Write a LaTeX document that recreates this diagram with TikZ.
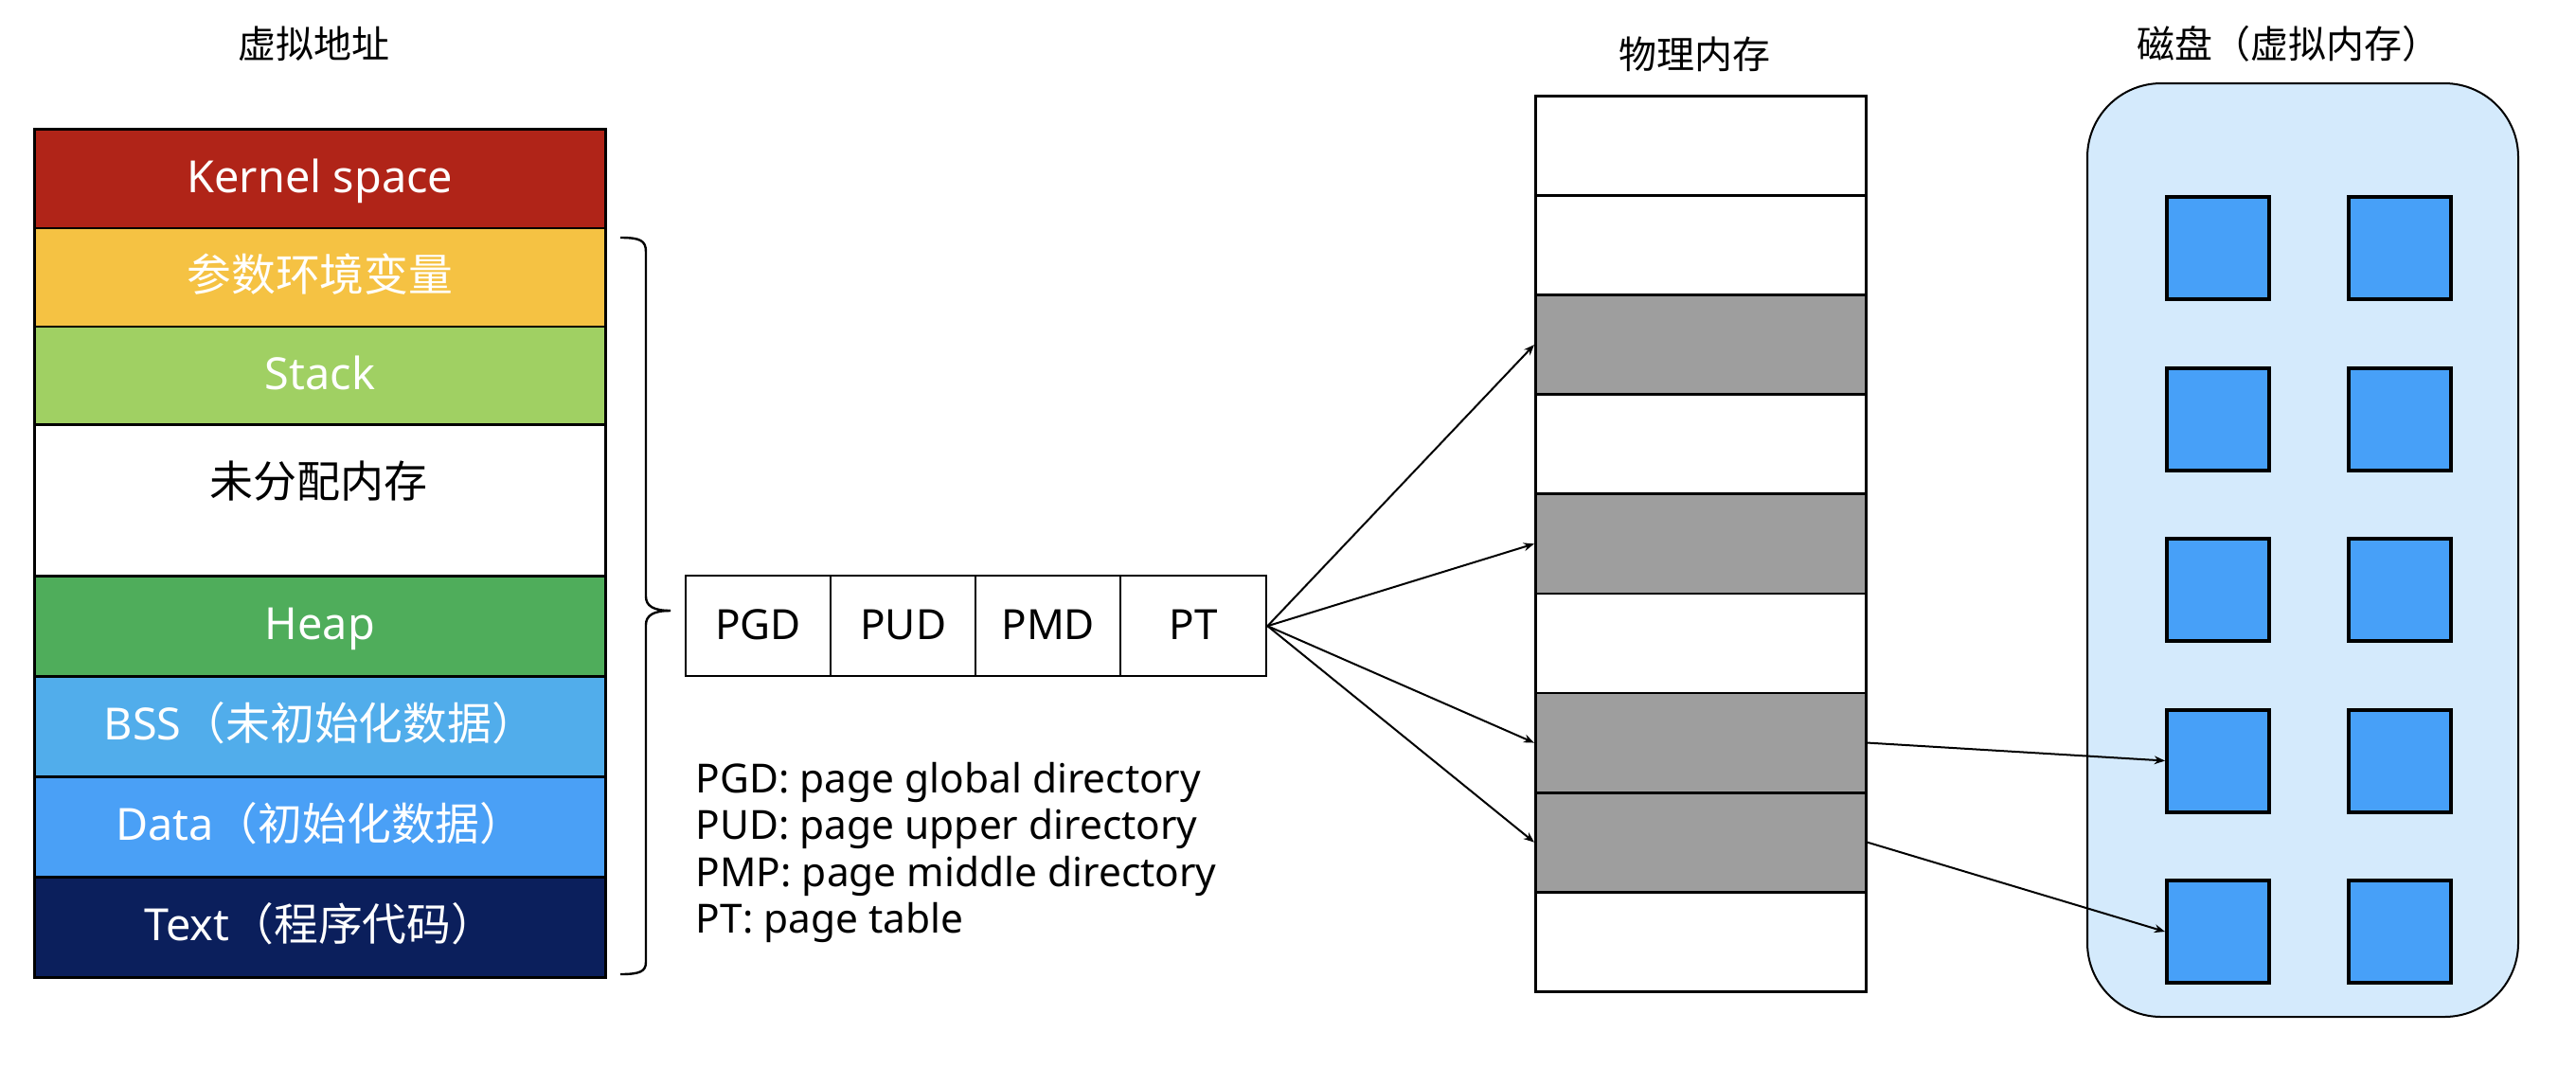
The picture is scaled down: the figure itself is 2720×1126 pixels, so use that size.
\documentclass[tikz,border=0pt]{standalone}
\usepackage{fontspec}
\setmainfont{Noto Sans}
\newfontfamily\cjk{Noto Sans CJK SC}
\usetikzlibrary{arrows.meta}
\newdimen\pxu \pxu=0.25pt
\definecolor{ckernel}{HTML}{B02418}
\definecolor{cparam}{HTML}{F5C243}
\definecolor{cstack}{HTML}{A0D063}
\definecolor{cheap}{HTML}{4FAD5B}
\definecolor{cbss}{HTML}{51ADEB}
\definecolor{cdata}{HTML}{4AA0F6}
\definecolor{ctext}{HTML}{0B1F5C}
\definecolor{cgray}{HTML}{9E9E9E}
\definecolor{cdisk}{HTML}{D4EAFC}
\definecolor{csq}{HTML}{47A0F8}
\begin{document}
\begin{tikzpicture}[x=0.25pt,y=-0.25pt,
  seg/.style={draw, line width=0.7pt, minimum width=603\pxu, inner sep=0pt, anchor=north west, text=white, text height=0.72em, text depth=0pt, font=\fontsize{11.7pt}{14pt}\selectfont},
  prow/.style={draw, line width=0.7pt, minimum width=349\pxu, minimum height=105.1\pxu, inner sep=0pt, anchor=north west},
  ptc/.style={draw, line width=0.6pt, minimum width=153\pxu, minimum height=106\pxu, inner sep=0pt, anchor=north west, text height=0.72em, text depth=0pt, font=\fontsize{11pt}{13pt}\selectfont},
  sq/.style={draw, line width=1pt, fill=csq, minimum width=108\pxu, minimum height=108\pxu, inner sep=0pt, anchor=north west},
  disk/.style={draw, line width=0.5pt, fill=cdisk, rounded corners=19.5pt, minimum width=455\pxu, minimum height=986\pxu, inner sep=0pt, anchor=north west},
  ttl/.style={font=\cjk\fontsize{10pt}{12pt}\selectfont, inner sep=0pt},
  leg/.style={anchor=base west, inner sep=0pt, font=\fontsize{10.6pt}{12.5pt}\selectfont},
  arr/.style={line width=0.5pt, -{Stealth[length=2.8pt,width=2.2pt]}}
]
\useasboundingbox (0,0) rectangle (2720,1126);
% titles
\node[ttl] (t1) at (331,46) {虚拟地址};
\node[ttl] (t2) at (1789,57) {物理内存};
\node[ttl] (t3) at (2416,46) {磁盘（虚拟内存）};
% virtual address column
\node[seg, fill=ckernel, minimum height=104.5\pxu] (kern) at (35,135) {Kernel space};
\node[seg, fill=cparam, minimum height=104\pxu] (param) at (35,239.5) {\cjk 参数环境变量};
\node[seg, fill=cstack, minimum height=103.5\pxu] (stack) at (35,343.5) {Stack};
\node[seg, fill=white, minimum height=160\pxu] (free) at (35,447) {};
\node[font=\cjk\fontsize{11.5pt}{14pt}\selectfont, inner sep=0pt] (freet) at (336.5,508) {未分配内存};
\node[seg, fill=cheap, minimum height=106\pxu] (heap) at (35,607) {Heap};
\node[seg, fill=cbss, minimum height=106\pxu] (bss) at (35,713) {BSS\cjk（未初始化数据）};
\node[seg, fill=cdata, minimum height=106\pxu] (data) at (35,819) {Data\cjk（初始化数据）};
\node[seg, fill=ctext, minimum height=106\pxu] (txt) at (35,925) {Text\cjk（程序代码）};
% brace
\draw[line width=0.6pt] (655,251) .. controls (676,251) and (682,254) .. (682,266) -- (682,630) .. controls (682,640) and (690,645) .. (708,645);
\draw[line width=0.6pt] (708,645) .. controls (690,645) and (682,650) .. (682,660) -- (682,1016) .. controls (682,1026) and (676,1029) .. (655,1029);
% page table
\node[ptc] (pgd) at (723,607) {PGD};
\node[ptc] (pud) at (876,607) {PUD};
\node[ptc] (pmd) at (1029,607) {PMD};
\node[ptc, minimum width=154\pxu] (pt) at (1182,607) {PT};
% legend
\node[leg] (l1) at (734,837) {PGD: page global directory};
\node[leg] (l2) at (734,886) {PUD: page upper directory};
\node[leg] (l3) at (734,936) {PMP: page middle directory};
\node[leg] (l4) at (734,985) {PT: page table};
% physical memory
\foreach \i/\c in {0/white,1/white,2/cgray,3/white,4/cgray,5/white,6/cgray,7/cgray,8/white}
  \node[prow, fill=\c] (r\i) at (1620,{100+105.1*\i}) {};
% disk
\node[disk] (disk) at (2203,87) {};
\foreach \r in {0,...,4}
  \foreach \c/\x in {1/2286,2/2478}
    \node[sq] (s\r\c) at (\x,{206+180.5*\r}) {};
% arrows
\draw[arr] (pt.east) -- (r2.west);
\draw[arr] (pt.east) -- (r4.west);
\draw[arr] (pt.east) -- (r6.west);
\draw[arr] (pt.east) -- (r7.west);
\draw[arr] (r6.east) -- (s31.west);
\draw[arr] (r7.east) -- (s41.west);
\end{tikzpicture}
\end{document}
